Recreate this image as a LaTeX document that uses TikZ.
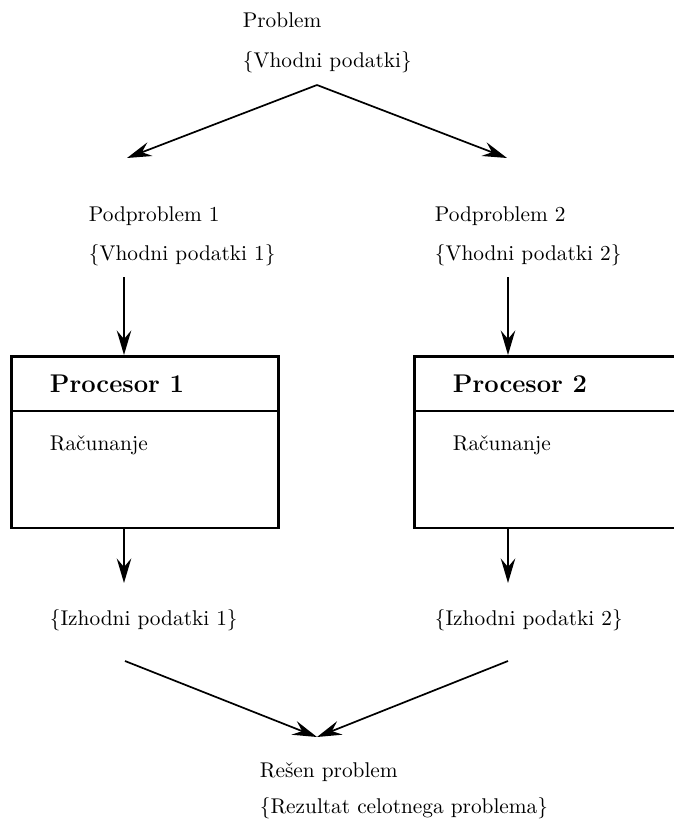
\documentclass[tikz,border=0pt]{standalone}
\usetikzlibrary{arrows.meta,positioning}
\begin{document}
\begin{tikzpicture}[x=0.469pt,y=-0.469pt]
    \tikzstyle{every path}=[thick]

    \edef\procw{125.2pt}
    \edef\proch{80.6pt}
    \tikzstyle{txt}=[anchor=base west,inner sep=0pt]
    \tikzstyle{proctitle}=[txt,font=\large\bfseries]
    \tikzstyle{procbox}=[draw,very thick,anchor=north west,inner sep=0pt,
                         minimum width=\procw,minimum height=\proch]
    \tikzstyle{flow}=[-{Stealth[length=11.5pt,width=6.8pt,inset=4pt]}]

    \useasboundingbox (0,0) rectangle (674,819);

    % Whole problem, split in two
    \node [txt] (problem) at (242,28) {Problem};
    \node [txt] (probin) at (242,68) {\{Vhodni podatki\}};
    \coordinate (split) at (317,85);
    \coordinate (split1) at (127,158);
    \coordinate (split2) at (507,158);
    \draw [flow] (split) -- (split1);
    \draw [flow] (split) -- (split2);

    % Subproblems
    \node [txt] (sub1) at (88,221) {Podproblem 1};
    \node [txt] (sub1in) at (88,260) {\{Vhodni podatki 1\}};
    \node [txt] (sub2) at (434,221) {Podproblem 2};
    \node [txt] (sub2in) at (434,260) {\{Vhodni podatki 2\}};

    % Processors
    \coordinate (divider) at (0,411);
    \node [procbox] (proc1) at (10,355) {};
    \node [procbox] (proc2) at (413,355) {};
    \draw [very thick] (proc1.west |- divider) -- (proc1.east |- divider);
    \draw [very thick] (proc2.west |- divider) -- (proc2.east |- divider);
    \node [proctitle] (proc1title) at (49,392) {Procesor 1};
    \node [txt] (proc1body) at (49,450) {Računanje};
    \node [proctitle] (proc2title) at (452,392) {Procesor 2};
    \node [txt] (proc2body) at (452,450) {Računanje};

    \coordinate (in1) at (124,277);
    \coordinate (in2) at (508,277);
    \draw [flow] (in1) -- (in1 |- proc1.north);
    \draw [flow] (in2) -- (in2 |- proc2.north);

    \coordinate (out1) at (124,583);
    \coordinate (out2) at (508,583);
    \draw [flow] (proc1.south -| out1) -- (out1);
    \draw [flow] (proc2.south -| out2) -- (out2);

    % Outputs and merge
    \node [txt] (res1) at (49,625) {\{Izhodni podatki 1\}};
    \node [txt] (res2) at (434,625) {\{Izhodni podatki 2\}};
    \coordinate (join1) at (125,661);
    \coordinate (join2) at (508,661);
    \coordinate (merge) at (317,737);
    \draw [flow] (join1) -- (merge);
    \draw [flow] (join2) -- (merge);

    \node [txt] (solved) at (259,777) {Rešen problem};
    \node [txt] (result) at (259,813) {\{Rezultat celotnega problema\}};
\end{tikzpicture}
\end{document}
